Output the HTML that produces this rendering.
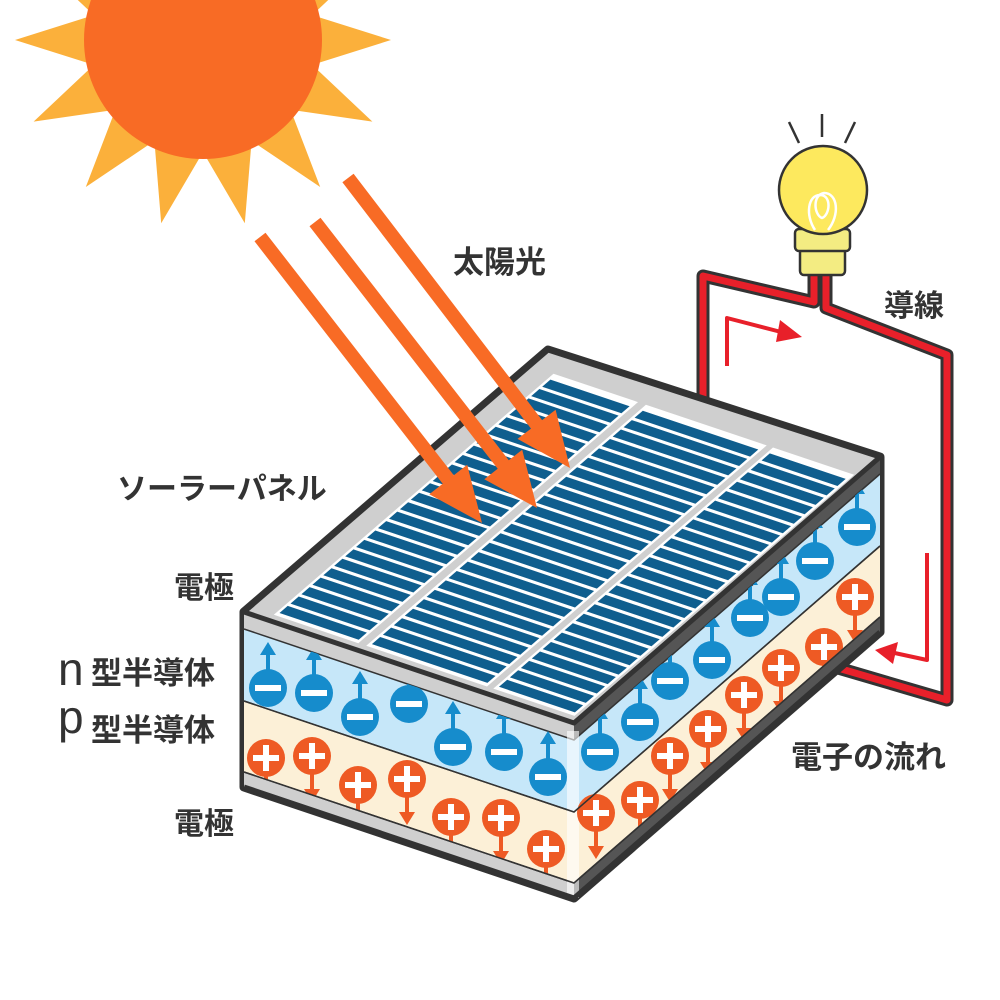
<!DOCTYPE html>
<html><head><meta charset="utf-8"><style>
html,body{margin:0;padding:0;background:#fff;width:1000px;height:1000px;overflow:hidden}
svg{display:block}
text{font-family:"Liberation Sans","Noto Sans CJK JP",sans-serif;font-weight:bold;fill:#333}
</style></head><body>
<svg id="s" width="1000" height="1000" viewBox="0 0 1000 1000" xmlns="http://www.w3.org/2000/svg">
<defs><clipPath id="fc"><polygon points="244,629 574,740 880,474 880,617 574,883 244,772"/></clipPath></defs>
<g id="sun"></g>
<g fill="none" stroke-linejoin="round" stroke-linecap="round">
<path d="M703,414 L703,276 L814,302 L814,272" stroke="#333" stroke-width="13"/>
<path d="M826,272 L826,308 L947,355 L947,700 L838,668" stroke="#333" stroke-width="13"/>
<path d="M703,414 L703,276 L814,302 L814,272" stroke="#e8202a" stroke-width="7"/>
<path d="M826,272 L826,308 L947,355 L947,700 L838,668" stroke="#e8202a" stroke-width="7"/>
<path d="M727,366 L727,318 L785,333" stroke="#e8202a" stroke-width="4" stroke-linecap="butt"/>
<path d="M927,553 L927,660 L890,652" stroke="#e8202a" stroke-width="4" stroke-linecap="butt"/>
</g>
<polygon points="802,337 780,320 776,342" fill="#e8202a"/>
<polygon points="875,650 898,642 893,664" fill="#e8202a"/>
<g stroke="#333" stroke-width="2.5">
<line x1="789" y1="122" x2="799" y2="143"/><line x1="822" y1="114" x2="822" y2="137"/><line x1="855" y1="122" x2="845" y2="143"/>
<rect x="800" y="248" width="45" height="27" rx="4" fill="#f3ec82"/>
<rect x="795" y="229" width="55" height="22" rx="4" fill="#f3ec82"/>
<circle cx="823" cy="190" r="44" fill="#fde95e"/>
</g>
<path d="M815,230 C805,215 808,195 820,195 C832,195 830,215 822,218 C814,215 812,195 824,193 C838,193 840,215 828,230" fill="none" stroke="#fff" stroke-width="2.5"/>
<g id="box"></g>
<g id="rays"></g>
<text x="453" y="273" font-size="31">太陽光</text>
<text x="884" y="316" font-size="30">導線</text>
<text x="117" y="499" font-size="30">ソーラーパネル</text>
<text x="174" y="598" font-size="30">電極</text>
<text x="58" y="685" font-size="46" style="font-weight:normal">n</text>
<text x="91" y="684" font-size="31">型半導体</text>
<text x="58" y="733" font-size="46" style="font-weight:normal">p</text>
<text x="91" y="741" font-size="31">型半導体</text>
<text x="174" y="834" font-size="30">電極</text>
<text x="791" y="768" font-size="31">電子の流れ</text>
</svg>
<script>
var NS="http://www.w3.org/2000/svg";
function el(p,t,a){var e=document.createElementNS(NS,t);for(var k in a)e.setAttribute(k,a[k]);p.appendChild(e);return e;}
function pts(a){return a.map(function(p){return p[0].toFixed(1)+","+p[1].toFixed(1)}).join(" ");}
var sun=document.getElementById("sun");
var cx=203,cy=40,star=[];
for(var i=0;i<28;i++){var a=Math.PI+i*Math.PI/14;var r=(i%2==0)?188:112;star.push([cx+r*Math.cos(a),cy+r*Math.sin(a)]);}
el(sun,"polygon",{points:pts(star),fill:"#fbb03b"});
el(sun,"circle",{cx:cx,cy:cy,r:119,fill:"#f86b25"});
var rays=document.getElementById("rays");
[[[260,237],[482,523]],[[315,222],[537,508]],[[348,178],[570,468]]].forEach(function(r){
 var dx=r[1][0]-r[0][0],dy=r[1][1]-r[0][1],L=Math.hypot(dx,dy),ux=dx/L,uy=dy/L,nx=-uy,ny=ux;
 var hl=55,hw=24,sw=7;var bx=r[1][0]-ux*hl,by=r[1][1]-uy*hl;
 var p=[[r[0][0]+nx*sw,r[0][1]+ny*sw],[bx+nx*sw,by+ny*sw],[bx+nx*hw,by+ny*hw],r[1],[bx-nx*hw,by-ny*hw],[bx-nx*sw,by-ny*sw],[r[0][0]-nx*sw,r[0][1]-ny*sw]];
 el(rays,"polygon",{points:pts(p),fill:"#f86b25"});
});
var g=document.getElementById("box");
var L=[244,612],F=[574,723],R=[880,457],B=[548,350];
function off(p,d){return [p[0],p[1]+d];}
var H=175;
el(g,"polygon",{points:pts([L,B,R,off(R,H),off(F,H),off(L,H)]),fill:"#333",stroke:"#333","stroke-width":9,"stroke-linejoin":"round"});
var bands=[[0,17,"#cfcfcf","#555"],[17,89,"#c6e7f9","#c6e7f9"],[89,160,"#fcf0d7","#fcf0d7"],[160,H,"#cfcfcf","#555"]];
bands.forEach(function(b){
 el(g,"polygon",{points:pts([off(L,b[0]),off(F,b[0]),off(F,b[1]),off(L,b[1])]),fill:b[2]});
 el(g,"polygon",{points:pts([off(F,b[0]),off(R,b[0]),off(R,b[1]),off(F,b[1])]),fill:b[3]});
});
[17,89,160].forEach(function(d){el(g,"polyline",{points:pts([off(L,d),off(F,d),off(R,d)]),fill:"none",stroke:"#333","stroke-width":1.5});});
el(g,"rect",{x:F[0]-7,y:F[1]+8,width:12,height:H-8,fill:"#fff",opacity:0.6});
var cg=el(g,"g",{"clip-path":"url(#fc)"});
function minus(x,y){
 el(cg,"rect",{x:x-2,y:y-36,width:4,height:20,fill:"#168ccc"});
 el(cg,"polygon",{points:pts([[x,y-46],[x-8,y-33],[x+8,y-33]]),fill:"#168ccc"});
 el(cg,"circle",{cx:x,cy:y,r:19,fill:"#168ccc"});
 el(cg,"rect",{x:x-13,y:y-3,width:26,height:6,fill:"#fff"});
}
function plus(x,y){
 el(cg,"rect",{x:x-2,y:y+14,width:4,height:22,fill:"#ee5a24"});
 el(cg,"polygon",{points:pts([[x,y+46],[x-8,y+33],[x+8,y+33]]),fill:"#ee5a24"});
 el(cg,"circle",{cx:x,cy:y,r:19,fill:"#ee5a24"});
 el(cg,"rect",{x:x-13,y:y-3,width:26,height:6,fill:"#fff"});
 el(cg,"rect",{x:x-3,y:y-13,width:6,height:26,fill:"#fff"});
}
[[268,688],[314,693],[360,717],[409,704],[453,747],[504,752],[548,777],[600,752],[640,722],[670,681],[712,660],[750,618],[781,597],[815,561],[857,527]].forEach(function(p){minus(p[0],p[1]);});
[[266,758],[312,756],[358,785],[407,779],[451,817],[501,818],[546,849],[596,813],[640,800],[670,756],[708,729],[744,695],[781,668],[824,647],[855,597]].forEach(function(p){plus(p[0],p[1]);});
[89,160].forEach(function(d){el(g,"polyline",{points:pts([off(L,d),off(F,d),off(R,d)]),fill:"none",stroke:"#333","stroke-width":1.5});});
el(g,"polyline",{points:pts([off(L,H),off(F,H),off(R,H)]),fill:"none",stroke:"#333","stroke-width":5});
el(g,"polygon",{points:pts([L,B,R,F]),fill:"#cfcfcf",stroke:"#333","stroke-width":5,"stroke-linejoin":"round"});
var U=[F[0]-L[0],F[1]-L[1]],V=[B[0]-L[0],B[1]-L[1]];
function P(s,t){return [L[0]+s*U[0]+t*V[0],L[1]+s*U[1]+t*V[1]];}
[[0.08,0.32],[0.36,0.71],[0.745,0.975]].forEach(function(c){
 var t0=0.03,t1=0.93;
 el(g,"polygon",{points:pts([P(c[0]-0.008,t0-0.01),P(c[1]+0.008,t0-0.01),P(c[1]+0.008,t1+0.01),P(c[0]-0.008,t1+0.01)]),fill:"#fff"});
 var n=25,dt=(t1-t0)/n;
 for(var i=0;i<n;i++){var a=t0+i*dt,b=a+dt*0.75;
  el(g,"polygon",{points:pts([P(c[0],a),P(c[1],a),P(c[1],b),P(c[0],b)]),fill:"#0f5e8e"});}
});
</script>
</body></html>
